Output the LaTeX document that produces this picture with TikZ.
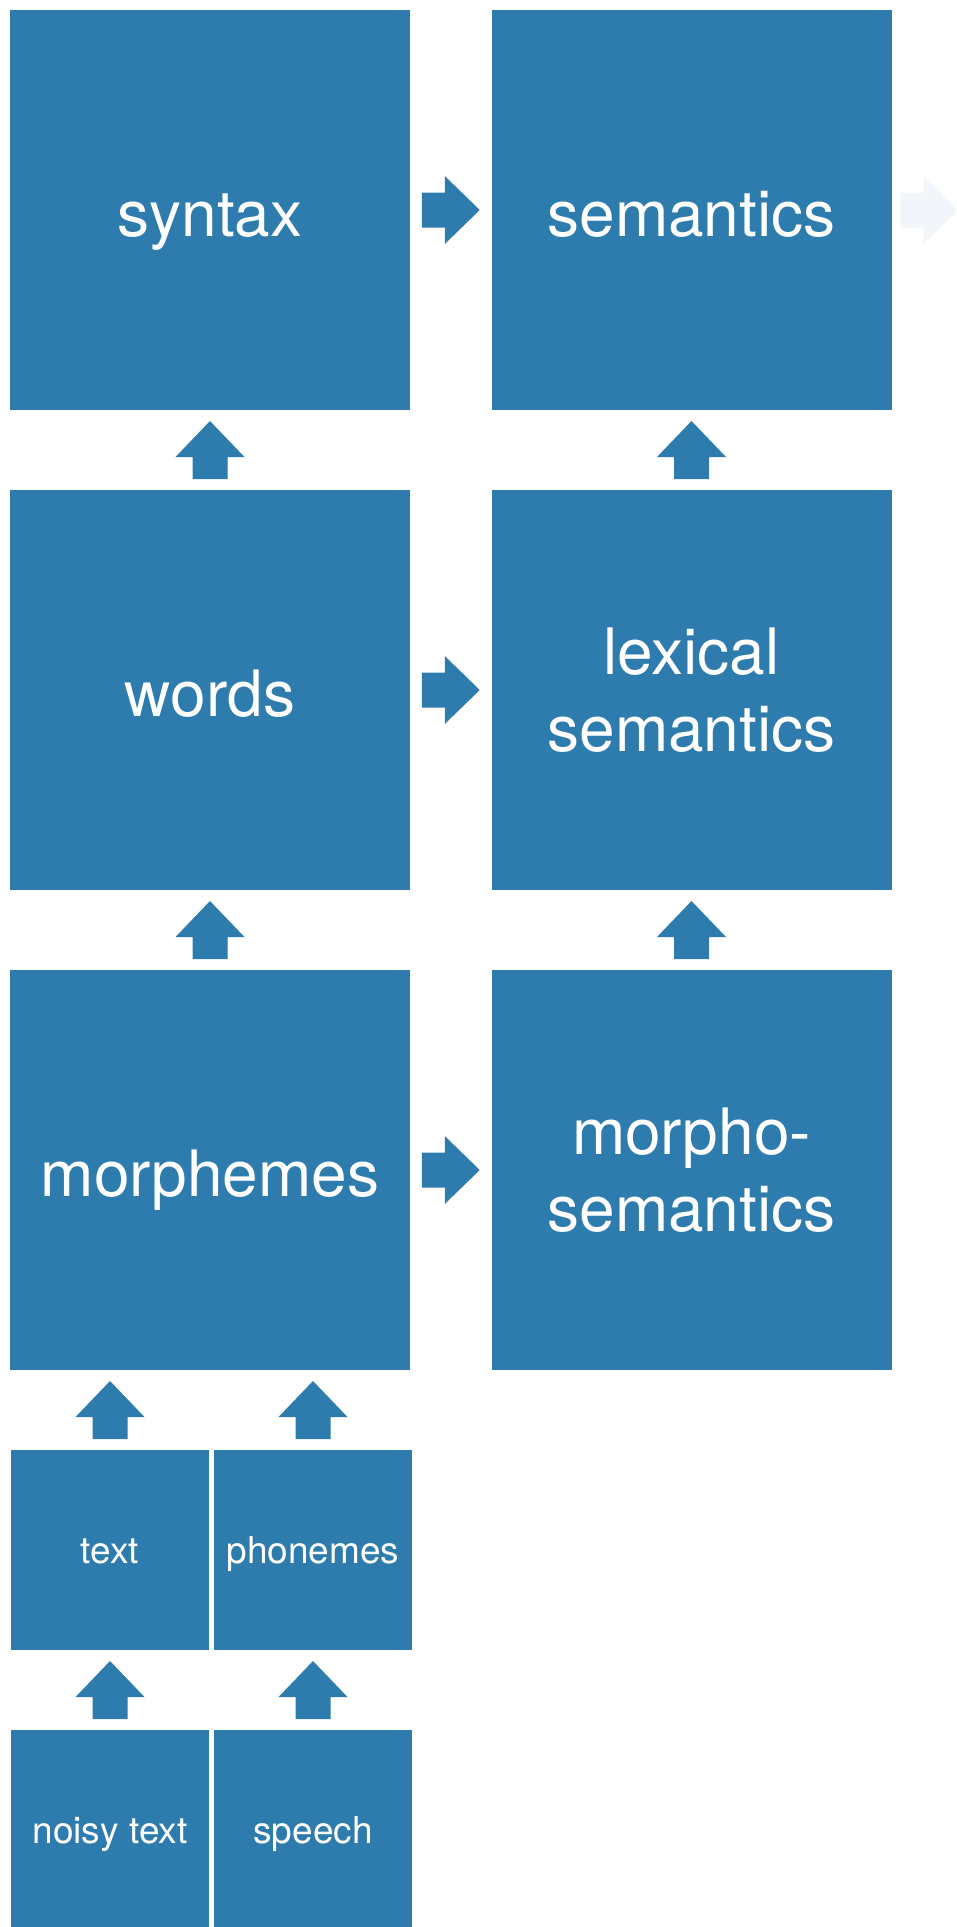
\documentclass[tikz,border=0pt]{standalone}
\usepackage{fontspec}
\setmainfont{TeX Gyre Heros}
\usetikzlibrary{calc}
\definecolor{boxblue}{RGB}{46,124,173}
\definecolor{fadeblue}{RGB}{242,246,250}
\tikzset{
  bigbox/.style={fill=boxblue, draw=none, minimum width=400pt, minimum height=400pt, inner sep=0pt,
    text=white, font=\fontsize{64}{77}\selectfont, align=center},
  smallbox/.style={fill=boxblue, draw=none, minimum width=198pt, minimum height=200pt, inner sep=0pt,
    text=white, font=\fontsize{37}{44}\selectfont, text height=26pt, text depth=0pt},
  oneline/.style={text height=52pt, text depth=0pt},
  arrfill/.style={fill=boxblue, draw=none},
  faded/.style={fill=fadeblue, draw=none},
  uparrow/.pic={\path[pic actions] (0pt,29pt) -- (34.5pt,-7pt) -- (17.5pt,-7pt) -- (17.5pt,-29pt)
     -- (-17.5pt,-29pt) -- (-17.5pt,-7pt) -- (-34.5pt,-7pt) -- cycle;},
  rightarrow/.pic={\path[pic actions] (29pt,0pt) -- (-6pt,34pt) -- (-6pt,17.5pt) -- (-29pt,17.5pt)
     -- (-29pt,-17.5pt) -- (-6pt,-17.5pt) -- (-6pt,-34pt) -- cycle;}
}
\begin{document}
\begin{tikzpicture}[x=1pt,y=-1pt]
\useasboundingbox (0,0) rectangle (956,1927);
\clip (0,0) rectangle (956,1927);
% boxes
\node[bigbox, oneline] (syntax) at (210,210) {syntax};
\node[bigbox, oneline] (semantics) at (691.5,210) {semantics};
\node[bigbox, oneline] (words) at (210,690) {words};
\node[bigbox] (lexsem) at (691.5,690) {lexical\\semantics};
\node[bigbox, oneline] (morphemes) at (210,1170) {morphemes};
\node[bigbox] (morphosem) at (691.5,1170) {morpho-\\semantics};
\node[smallbox] (text) at (110,1550) {text};
\node[smallbox] (phonemes) at (313,1550) {phonemes};
\node[smallbox] (noisy) at (110,1830) {noisy text};
\node[smallbox] (speech) at (313,1830) {speech};
\coordinate (next) at (967,210);
% right arrows
\pic[arrfill] at ($(syntax.east)!0.5!(semantics.west)$) {rightarrow};
\pic[arrfill] at ($(words.east)!0.5!(lexsem.west)$) {rightarrow};
\pic[arrfill] at ($(morphemes.east)!0.5!(morphosem.west)$) {rightarrow};
\pic[faded] at ($(semantics.east)!0.5!(next)$) {rightarrow};
% up arrows
\pic[arrfill] at ($(words.north)!0.5!(syntax.south)$) {uparrow};
\pic[arrfill] at ($(lexsem.north)!0.5!(semantics.south)$) {uparrow};
\pic[arrfill] at ($(morphemes.north)!0.5!(words.south)$) {uparrow};
\pic[arrfill] at ($(morphosem.north)!0.5!(lexsem.south)$) {uparrow};
\pic[arrfill] at ($(text.north)!0.5!(text.north |- morphemes.south)$) {uparrow};
\pic[arrfill] at ($(phonemes.north)!0.5!(phonemes.north |- morphemes.south)$) {uparrow};
\pic[arrfill] at ($(noisy.north)!0.5!(text.south)$) {uparrow};
\pic[arrfill] at ($(speech.north)!0.5!(phonemes.south)$) {uparrow};
\end{tikzpicture}
\end{document}
